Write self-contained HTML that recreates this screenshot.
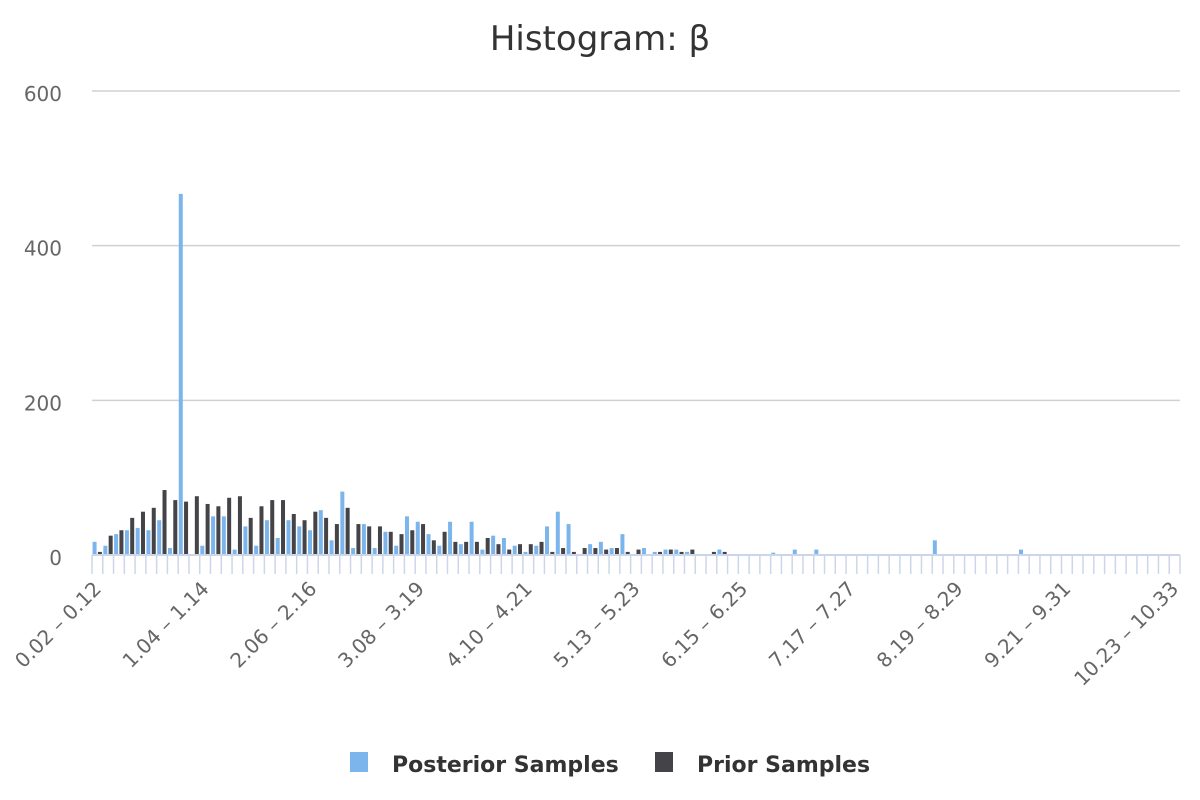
<!DOCTYPE html>
<html><head><meta charset="utf-8"><style>
body{margin:0;background:#fff;}
svg{display:block;font-family:"DejaVu Sans","Liberation Sans",sans-serif;}
</style></head><body>
<svg id="chart" width="1200" height="800">
<text x="600" y="50" text-anchor="middle" font-size="34" fill="#333">Histogram: β</text>
<g id="grid"></g>
<g id="yaxis"></g>
<g id="bars"></g>
<g id="xaxis"></g>
<g>
<g><rect x="350" y="752" width="18" height="20" fill="#7cb5ec"/><text x="392" y="772" font-size="22" font-weight="bold" fill="#333">Posterior Samples</text></g>
<g><rect x="655" y="752" width="18" height="20" fill="#434348"/><text x="697" y="772" font-size="22" font-weight="bold" fill="#333">Prior Samples</text></g>
</g>
</svg>
<script>
const nCats = 101;
const posterior = [17,12,27,32,35,32,45,9,467,0,12,50,50,7,37,12,45,22,45,37,32,58,19,82,9,40,9,30,12,50,43,27,12,43,14,43,7,25,22,12,4,12,37,56,40,0,14,17,9,27,0,9,4,7,7,4,0,0,7,0,0,0,0,3,0,7,0,7,0,0,0,0,0,0,0,0,0,0,19,0,0,0,0,0,0,0,7,0,0,0,0,0,0,0,0,0,0,0,0,0,0];
const prior = [4,25,32,48,56,61,84,71,69,76,66,63,74,76,48,63,71,71,53,45,56,48,40,61,40,37,37,30,27,32,40,19,30,17,17,17,22,14,7,14,14,17,4,9,4,9,9,7,9,4,7,0,4,7,4,7,0,4,4,0,0,0,0,0,0,0,0,0,0,0,0,0,0,0,0,0,0,0,0,0,0,0,0,0,0,0,0,0,0,0,0,0,0,0,0,0,0,0,0,0,0];
const labelIdx = [0,10,20,30,40,50,60,70,80,90,100];
const labelText = ["0.02 – 0.12","1.04 – 1.14","2.06 – 2.16","3.08 – 3.19","4.10 – 4.21","5.13 – 5.23","6.15 – 6.25","7.17 – 7.27","8.19 – 8.29","9.21 – 9.31","10.23 – 10.33"];
const yTicks = [0,200,400,600];
const NS="http://www.w3.org/2000/svg";
const x0=92,x1=1180,yB=555,yT=91,yMax=600;
const cw=(x1-x0)/nCats;
const yS=v=>yB-(v/yMax)*(yB-yT);
const xS=i=>x0+cw*i;
function mk(t,a,p){const e=document.createElementNS(NS,t);for(const k in a)e.setAttribute(k,a[k]);p.appendChild(e);return e;}
const grid=document.getElementById('grid'),ya=document.getElementById('yaxis'),bars=document.getElementById('bars'),xa=document.getElementById('xaxis');
yTicks.forEach(v=>{
 if(v>0){const l=mk('line',{x1:x0,x2:x1,y1:yS(v),y2:yS(v),stroke:'#d0d0d0','stroke-width':1.5},grid);
 
 }
 const t=mk('text',{x:62,y:yS(v)+10,'text-anchor':'end','font-size':20,fill:'#666'},ya);
 t.textContent=v;
 
 
});
for(let i=0;i<nCats;i++){
 const c=xS(i)+cw/2;
 if(posterior[i]>0){const r=mk('rect',{x:c-4.8,y:yS(posterior[i]),width:4,height:yB-yS(posterior[i]),fill:'#7cb5ec'},bars);
 
 }
 if(prior[i]>0){const r=mk('rect',{x:c+0.5,y:yS(prior[i]),width:4,height:yB-yS(prior[i]),fill:'#434348'},bars);
 
 }
}
for(let i=0;i<=nCats;i++){
 const tk=mk('line',{x1:xS(i),x2:xS(i),y1:yB,y2:yB+19,stroke:'#ccd6eb','stroke-width':1.5},xa);
 
 
}
mk('line',{x1:x0,x2:x1,y1:yB,y2:yB,stroke:'#ccd6eb','stroke-width':2},xa);
labelIdx.forEach((idx,k)=>{
 const cx=xS(idx)+cw/2+5, cy=590;
 const t=mk('text',{x:cx,y:cy,'text-anchor':'end','font-size':20,fill:'#666',transform:`rotate(-45 ${cx} ${cy})`},xa);
 t.textContent=labelText[k];
 
 
});
</script>
</body></html>
